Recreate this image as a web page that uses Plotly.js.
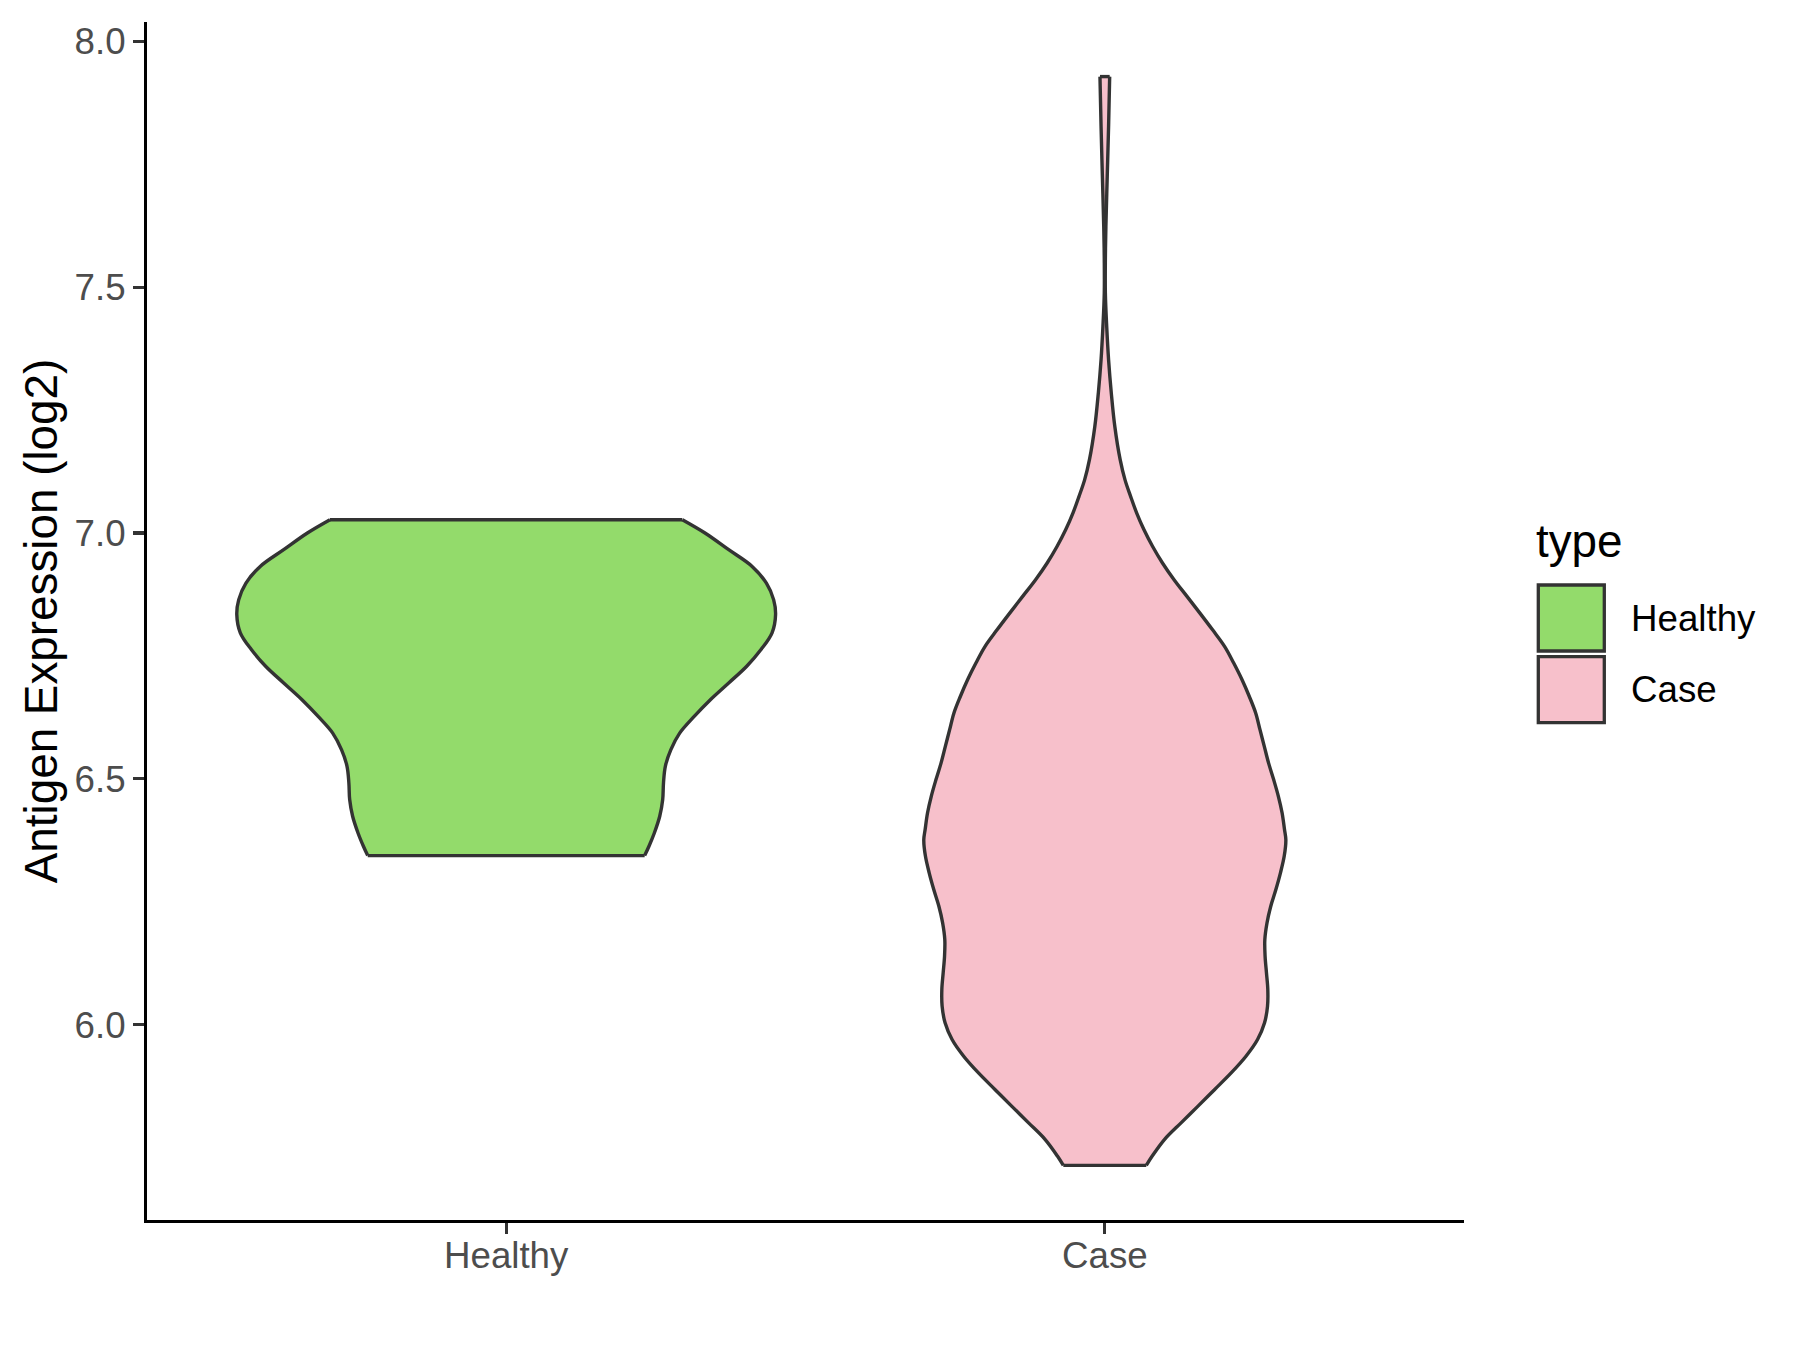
<!DOCTYPE html>
<html>
<head>
<meta charset="utf-8">
<script src="https://cdn.plot.ly/plotly-3.0.1.min.js"></script>
<style>
  html, body { margin: 0; padding: 0; background: #ffffff; }
  #chart { width: 1800px; height: 1350px; }
</style>
</head>
<body>
<div id="chart"></div>
<script>
// ---- Data ----
const categories = ['Healthy', 'Case'];
const legendTitle = 'type';
const yAxisTitle = 'Antigen Expression (log2)';
const yTickValues = [6.0, 6.5, 7.0, 7.5, 8.0];

// Density profile (relative to the widest violin) at expression levels
const healthyLevels = [6.344, 6.363, 6.390, 6.424, 6.458, 6.492, 6.526, 6.559, 6.593, 6.627, 6.661,
  6.695, 6.729, 6.763, 6.797, 6.834, 6.864, 6.898, 6.932, 6.966, 7.000, 7.027];
const healthyDensity = [0.514, 0.530, 0.550, 0.570, 0.581, 0.584, 0.591, 0.611, 0.644, 0.698, 0.758,
  0.826, 0.893, 0.946, 0.987, 1.000, 0.993, 0.966, 0.913, 0.826, 0.738, 0.654];

const caseLevels = [5.714, 5.733, 5.767, 5.801, 5.834, 5.868, 5.902, 5.936, 5.970, 6.004, 6.038,
  6.072, 6.106, 6.139, 6.173, 6.207, 6.241, 6.275, 6.309, 6.343, 6.376, 6.397, 6.431, 6.465,
  6.498, 6.532, 6.566, 6.600, 6.634, 6.668, 6.702, 6.736, 6.769, 6.803, 6.837, 6.871, 6.905,
  6.939, 6.973, 7.007, 7.041, 7.074, 7.108, 7.149, 7.217, 7.285, 7.352, 7.420, 7.488, 7.556,
  7.623, 7.725, 7.827, 7.928];
const caseDensity = [0.154, 0.176, 0.222, 0.284, 0.345, 0.407, 0.469, 0.524, 0.567, 0.593, 0.604,
  0.605, 0.600, 0.595, 0.594, 0.602, 0.616, 0.635, 0.652, 0.666, 0.672, 0.667, 0.658, 0.644,
  0.627, 0.608, 0.592, 0.576, 0.560, 0.536, 0.509, 0.478, 0.445, 0.400, 0.353, 0.305, 0.257,
  0.214, 0.177, 0.145, 0.118, 0.096, 0.075, 0.057, 0.037, 0.024, 0.014, 0.007, 0.002, 0.002,
  0.004, 0.009, 0.014, 0.018];

const fillColors = ['#93DB6B', '#F7C0CB'];
const outlineColor = '#333333';

// ---- Layout geometry ----
const W = 1800, H = 1350;
const M = { l: 147, r: 336, t: 22, b: 130 };
const plotW = W - M.l - M.r, plotH = H - M.t - M.b;
const xp = px => (px - M.l) / plotW;
const yp = py => (H - M.b - py) / plotH;
const halfMax = 0.45;
const FONT = '"Liberation Sans", Arial, Helvetica, sans-serif';
const OUTLINE_W = 3.4;

function violinTraces(pos, levels, density, color, name) {
  const n = levels.length;
  const rightX = levels.map((_, i) => pos + halfMax * density[i]);
  const leftX = levels.map((_, i) => pos - halfMax * density[i]);
  const polyX = rightX.concat(leftX.slice().reverse(), [rightX[0]]);
  const polyY = levels.concat(levels.slice().reverse(), [levels[0]]);
  const base = { type: 'scatter', mode: 'lines', hoverinfo: 'skip', showlegend: false };
  const lineStyle = { color: outlineColor, width: OUTLINE_W, shape: 'spline', smoothing: 1.0 };
  return [
    Object.assign({}, base, {
      name: name, x: polyX, y: polyY, fill: 'toself', fillcolor: color,
      line: { width: 0, color: color, shape: 'linear' }
    }),
    Object.assign({}, base, { x: rightX, y: levels, line: lineStyle }),
    Object.assign({}, base, { x: leftX, y: levels, line: lineStyle }),
    Object.assign({}, base, {
      x: [leftX[0], rightX[0], null, leftX[n - 1], rightX[n - 1]],
      y: [levels[0], levels[0], null, levels[n - 1], levels[n - 1]],
      line: { color: outlineColor, width: OUTLINE_W }
    })
  ];
}

const traces = [].concat(
  violinTraces(1, healthyLevels, healthyDensity, fillColors[0], categories[0]),
  violinTraces(2, caseLevels, caseDensity, fillColors[1], categories[1])
);

// ---- Manual legend (ggplot style keys) ----
const keyLeft = 1538.3, keyRight = 1604.3, keyTop = 585, keySize = 66, keyGap = 5.7;
const shapes = [], annotations = [];
categories.forEach((c, i) => {
  const top = keyTop + i * (keySize + keyGap);
  shapes.push({
    type: 'rect', xref: 'paper', yref: 'paper',
    x0: xp(keyLeft), x1: xp(keyRight), y0: yp(top), y1: yp(top + keySize),
    fillcolor: fillColors[i], line: { color: outlineColor, width: 3.3 }
  });
  annotations.push({
    xref: 'paper', yref: 'paper', x: xp(1629), y: yp(top + keySize / 2),
    xanchor: 'left', yanchor: 'middle', text: c, showarrow: false,
    font: { family: FONT, size: 36.7, color: '#000000' }
  });
});
annotations.push({
  xref: 'paper', yref: 'paper', x: xp(1534), y: yp(541),
  xanchor: 'left', yanchor: 'middle', text: legendTitle, showarrow: false,
  font: { family: FONT, size: 45.8, color: '#000000' }
});

const layout = {
  width: W, height: H,
  margin: M,
  paper_bgcolor: '#ffffff', plot_bgcolor: '#ffffff',
  showlegend: false,
  font: { family: FONT },
  xaxis: {
    range: [0.4, 2.6], tickmode: 'array', tickvals: [1, 2], ticktext: categories,
    showgrid: false, zeroline: false, showline: true, linecolor: '#000000', linewidth: 3.1,
    ticks: 'outside', ticklen: 11, tickwidth: 3.1, tickcolor: '#333333',
    ticklabelstandoff: -10,
    tickfont: { family: FONT, size: 36.7, color: '#4D4D4D' }, fixedrange: true
  },
  yaxis: {
    range: [5.603, 8.039], tickmode: 'array', tickvals: yTickValues,
    ticktext: yTickValues.map(v => v.toFixed(1)),
    showgrid: false, zeroline: false, showline: true, linecolor: '#000000', linewidth: 3.1,
    ticks: 'outside', ticklen: 11, tickwidth: 3.1, tickcolor: '#333333',
    tickfont: { family: FONT, size: 36.7, color: '#4D4D4D' },
    title: { text: yAxisTitle, font: { family: FONT, size: 45.8, color: '#000000' }, standoff: 3 },
    fixedrange: true
  },
  shapes: shapes,
  annotations: annotations
};

Plotly.newPlot('chart', traces, layout, { displayModeBar: false, staticPlot: true });
</script>
</body>
</html>
